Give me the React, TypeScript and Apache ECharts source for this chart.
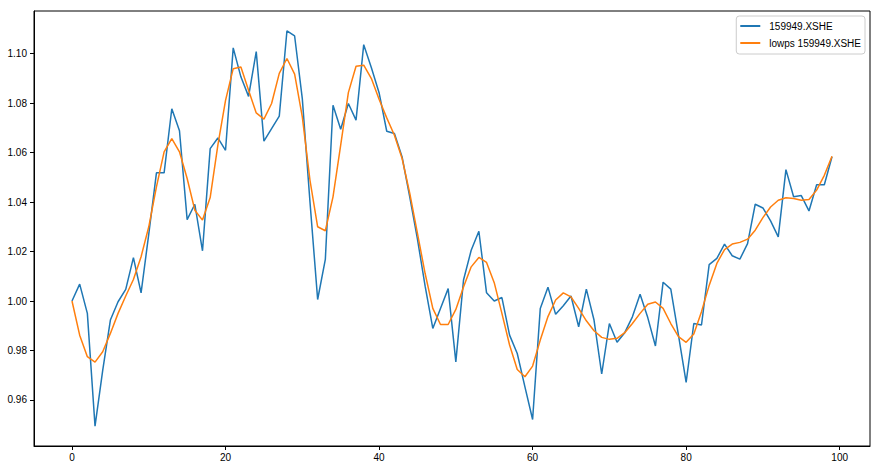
import React, { useEffect, useRef } from "react";
import * as echarts from "echarts";

const seriesNames = ["159949.XSHE", "lowps 159949.XSHE"];

const priceValues = [
  1.0, 1.0068, 0.995, 0.9494, 0.972, 0.9923, 0.9997, 1.0047, 1.0175, 1.0033,
  1.027, 1.0518, 1.0518, 1.0777, 1.0688, 1.0329, 1.0391, 1.0203, 1.0616, 1.0659,
  1.0609, 1.1023, 1.0906, 1.0827, 1.1008, 1.0646, 1.0697, 1.0747, 1.1092, 1.1071,
  1.0818, 1.040, 1.0006, 1.0168, 1.0791, 1.0694, 1.0798, 1.0731, 1.1036, 1.0943,
  1.0842, 1.0686, 1.0677, 1.0582, 1.042, 1.025, 1.006, 0.9889, 0.997, 1.005,
  0.9754, 1.0085, 1.0205, 1.0282, 1.0033, 1.0, 1.0014, 0.9862, 0.9788, 0.9653,
  0.9521, 0.997, 1.0056, 0.9946, 0.9981, 1.002, 0.9896, 1.0048, 0.9923, 0.9705,
  0.9909, 0.9833, 0.9872, 0.9936, 1.0027, 0.9933, 0.9818, 1.0076, 1.0048, 0.9862,
  0.9671, 0.9909, 0.9903, 1.0147, 1.0172, 1.023, 1.0183, 1.0169, 1.0232, 1.0391,
  1.0376, 1.0324, 1.0259, 1.0531, 1.0421, 1.0426, 1.0364, 1.047, 1.047, 1.0583,
];

const lowpassValues = [
  1.0, 0.9862, 0.9775, 0.9753, 0.9795, 0.9869, 0.995, 1.002, 1.0087, 1.0179,
  1.03, 1.0461, 1.0603, 1.0656, 1.0603, 1.0495, 1.0367, 1.0327, 1.0418, 1.063,
  1.0811, 1.0939, 1.0946, 1.0852, 1.076, 1.0735, 1.0798, 1.092, 1.098, 1.0917,
  1.0744, 1.0488, 1.03, 1.0284, 1.0421, 1.063, 1.0842, 1.0949, 1.0953, 1.0899,
  1.0815, 1.074, 1.067, 1.0576, 1.0435, 1.0273, 1.0111, 0.997, 0.9905, 0.9905,
  0.9966, 1.0057, 1.0138, 1.0176, 1.0156, 1.0074, 0.995, 0.9822, 0.9723, 0.9694,
  0.9737, 0.9842, 0.9937, 1.0004, 1.0033, 1.0017, 0.997, 0.992, 0.988, 0.9853,
  0.9845, 0.9849, 0.9872, 0.9909, 0.995, 0.9987, 0.9996, 0.997, 0.9909, 0.9856,
  0.9833, 0.9867, 0.9957, 1.0063, 1.0152, 1.0208, 1.023, 1.0237, 1.025, 1.0286,
  1.0337, 1.038, 1.0407, 1.0417, 1.0414, 1.0407, 1.041, 1.0448, 1.0508, 1.0585,
];

const xTicks = [0, 20, 40, 60, 80, 100];
const yTicks = [0.96, 0.98, 1.0, 1.02, 1.04, 1.06, 1.08, 1.1];

const FONT = "Liberation Sans";

export default function App() {
  const ref = useRef<HTMLDivElement>(null);

  useEffect(() => {
    if (!ref.current) return;
    const chart = echarts.init(ref.current, undefined, { renderer: "svg" });
    const toPoints = (arr: number[]) => arr.map((v, i) => [i, v]);
    chart.setOption({
      animation: false,
      backgroundColor: "#ffffff",
      textStyle: { fontFamily: FONT },
      grid: {
        left: 34,
        right: 12,
        top: 11,
        bottom: 25,
        show: true,
        borderColor: "#000000",
        borderWidth: 1,
        backgroundColor: "transparent",
      },
      legend: {
        orient: "vertical",
        right: 17,
        top: 16,
        padding: [4, 4, 5, 4],
        itemGap: 5,
        itemWidth: 20,
        itemHeight: 2,
        icon: "rect",
        borderColor: "#cccccc",
        borderWidth: 1,
        borderRadius: 3,
        backgroundColor: "rgba(255,255,255,0.8)",
        textStyle: {
          fontFamily: FONT,
          fontSize: 10,
          color: "#000000",
          padding: [0, 0, 0, 4],
          lineHeight: 12,
        },
        data: seriesNames,
      },
      xAxis: {
        type: "value",
        min: -4.95,
        max: 103.95,
        axisLine: { show: true, onZero: false, lineStyle: { color: "#000000", width: 1 } },
        axisTick: {
          show: true,
          inside: false,
          length: 4,
          customValues: xTicks,
          lineStyle: { color: "#000000" },
        },
        axisLabel: {
          customValues: xTicks,
          margin: 6,
          fontSize: 10,
          fontFamily: FONT,
          color: "#000000",
          formatter: (v: number) => String(v),
        },
        splitLine: { show: false },
      },
      yAxis: {
        type: "value",
        min: 0.9414,
        max: 1.1172,
        axisLine: { show: true, onZero: false, lineStyle: { color: "#000000", width: 1 } },
        axisTick: {
          show: true,
          inside: false,
          length: 4,
          customValues: yTicks,
          lineStyle: { color: "#000000" },
        },
        axisLabel: {
          customValues: yTicks,
          margin: 7,
          fontSize: 10,
          fontFamily: FONT,
          color: "#000000",
          formatter: (v: number) => v.toFixed(2),
        },
        splitLine: { show: false },
      },
      series: [
        {
          name: seriesNames[0],
          type: "line",
          data: toPoints(priceValues),
          showSymbol: false,
          symbol: "none",
          lineStyle: { color: "#1f77b4", width: 1.5 },
          itemStyle: { color: "#1f77b4" },
        },
        {
          name: seriesNames[1],
          type: "line",
          data: toPoints(lowpassValues),
          showSymbol: false,
          symbol: "none",
          lineStyle: { color: "#ff7f0e", width: 1.5 },
          itemStyle: { color: "#ff7f0e" },
        },
      ],
    });
    return () => chart.dispose();
  }, []);

  return (
    <div
      ref={ref}
      style={{ width: 882, height: 471, position: "absolute", left: 0, top: 0 }}
    />
  );
}
